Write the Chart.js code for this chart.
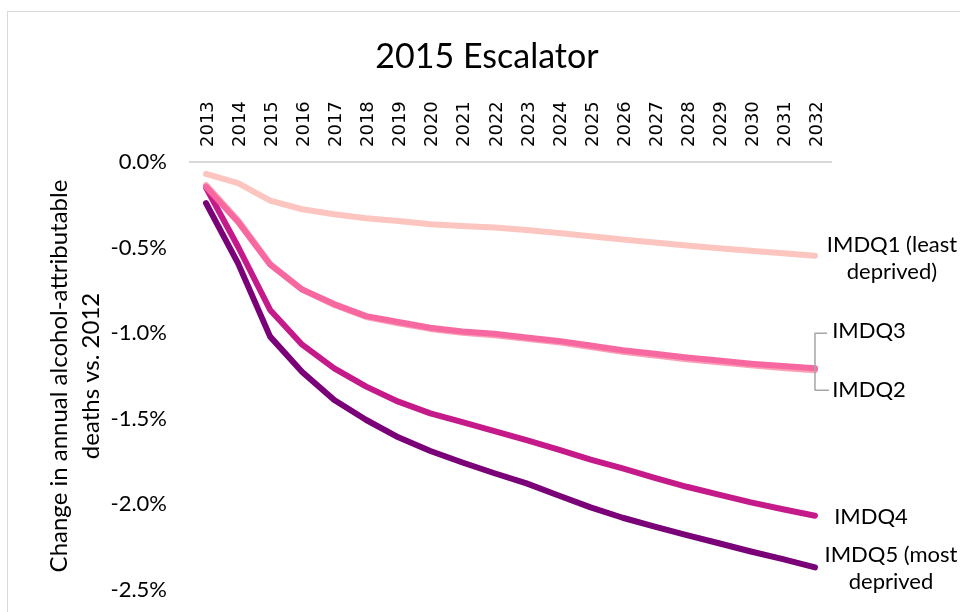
<!DOCTYPE html>
<html>
<head>
<meta charset="utf-8">
<script src="https://cdn.jsdelivr.net/npm/chart.js@4/dist/chart.umd.min.js"></script>
<style>
  html, body { margin: 0; padding: 0; background: #fff; }
  .frame { position: absolute; left: 7px; top: 11px; width: 1000px; height: 700px; border: 1px solid #d9d9d9; }
  #chart { position: absolute; left: 0; top: 0; }
</style>
</head>
<body>
<div class="frame"></div>
<canvas id="chart" width="960" height="612"></canvas>
<script>
const years = ['2013', '2014', '2015', '2016', '2017', '2018', '2019', '2020', '2021', '2022',
  '2023', '2024', '2025', '2026', '2027', '2028', '2029', '2030', '2031', '2032'];

// % change in annual alcohol-attributable deaths vs 2012
const imdq1 = [-0.07, -0.124, -0.226, -0.276, -0.305, -0.329, -0.345, -0.363, -0.374, -0.382,
  -0.397, -0.415, -0.434, -0.453, -0.47, -0.488, -0.504, -0.518, -0.533, -0.548];
const imdq2 = [-0.135, -0.34, -0.595, -0.745, -0.835, -0.905, -0.942, -0.975, -0.998, -1.012,
  -1.033, -1.053, -1.081, -1.109, -1.13, -1.152, -1.17, -1.188, -1.203, -1.216];
const imdq3 = [-0.145, -0.35, -0.6, -0.745, -0.83, -0.9, -0.935, -0.968, -0.99, -1.003,
  -1.025, -1.045, -1.072, -1.1, -1.12, -1.142, -1.16, -1.178, -1.192, -1.205];
const imdq4 = [-0.15, -0.495, -0.864, -1.067, -1.205, -1.312, -1.4, -1.468, -1.52, -1.572,
  -1.624, -1.68, -1.738, -1.79, -1.845, -1.897, -1.943, -1.988, -2.028, -2.066];
const imdq5 = [-0.24, -0.592, -1.02, -1.227, -1.39, -1.507, -1.608, -1.688, -1.755, -1.818,
  -1.877, -1.948, -2.017, -2.078, -2.13, -2.179, -2.227, -2.275, -2.32, -2.368];

const seriesNames = ['IMDQ1 (least deprived)', 'IMDQ2', 'IMDQ3', 'IMDQ4', 'IMDQ5 (most deprived'];
const endLabels = [['IMDQ1 (least', 'deprived)'], ['IMDQ2'], ['IMDQ3'], ['IMDQ4'], ['IMDQ5 (most', 'deprived']];
const yTicks = [0, -0.5, -1.0, -1.5, -2.0, -2.5];
const chartTitle = '2015 Escalator';

const colors = ['#fcc5c0', '#fa9fb5', '#f768a1', '#c51b8a', '#7a0177'];
const labelFont = '22px Lato';

// title centred over the whole frame, not just the plot
const titlePlugin = {
  id: 'frameTitle',
  afterDraw(chart) {
    const ctx = chart.ctx;
    ctx.save();
    ctx.font = '34px Lato';
    ctx.fillStyle = '#000';
    ctx.textAlign = 'center';
    ctx.textBaseline = 'middle';
    ctx.fillText(chartTitle, 487, 57);
    ctx.restore();
  }
};

// end-of-line labels, placed from each series' last point
const endLabelPlugin = {
  id: 'endLabels',
  afterDatasetsDraw(chart) {
    const ctx = chart.ctx;
    ctx.save();
    ctx.font = labelFont;
    ctx.fillStyle = '#000';
    ctx.textAlign = 'center';
    ctx.textBaseline = 'middle';
    // offsets from the last point: [dx, dy of first line]
    const offs = [[77, -11], [54, 20], [54, -37], [56, 1], [76, -12]];
    chart.data.datasets.forEach((ds, i) => {
      const meta = chart.getDatasetMeta(i);
      const pt = meta.data[meta.data.length - 1];
      const lines = endLabels[ds.idx];
      const [dx, dy] = offs[ds.idx];
      lines.forEach((t, j) => ctx.fillText(t, pt.x + dx, pt.y + dy + j * 27));
    });
    // bracket leader for IMDQ3 / IMDQ2
    const m2 = chart.getDatasetMeta(chart.data.datasets.findIndex(d => d.idx === 1));
    const p = m2.data[m2.data.length - 1];
    ctx.strokeStyle = '#a6a6a6';
    ctx.lineWidth = 1.5;
    ctx.lineJoin = 'round';
    ctx.beginPath();
    ctx.moveTo(p.x + 12, p.y - 37);
    ctx.lineTo(p.x, p.y - 37);
    ctx.lineTo(p.x, p.y + 20);
    ctx.lineTo(p.x + 14, p.y + 20);
    ctx.stroke();
    ctx.restore();
  }
};

const allSeries = [imdq1, imdq2, imdq3, imdq4, imdq5];
const drawOrder = [0, 2, 1, 3, 4]; // IMDQ3 sits over IMDQ2

const datasets = drawOrder.map(i => ({
  idx: i,
  label: seriesNames[i],
  data: allSeries[i],
  borderColor: colors[i],
  backgroundColor: colors[i],
  borderWidth: 6,
  borderCapStyle: 'round',
  borderJoinStyle: 'round',
  pointRadius: 0,
  tension: 0,
  clip: false
}));

new Chart(document.getElementById('chart').getContext('2d'), {
  type: 'line',
  data: { labels: years, datasets: datasets },
  options: {
    responsive: false,
    animation: false,
    events: [],
    layout: { padding: { left: 0, right: 129, top: 0, bottom: 22 } },
    plugins: {
      legend: { display: false },
      tooltip: { enabled: false },
      title: { display: false }
    },
    scales: {
      x: {
        position: 'top',
        offset: true,
        grid: { display: false, drawTicks: false },
        border: { display: true, color: '#d9d9d9', width: 2 },
        ticks: {
          autoSkip: false,
          minRotation: 90,
          maxRotation: 90,
          padding: 15,
          labelOffset: 24,
          color: '#000',
          font: { family: 'DejaVu Sans', size: 18 }
        },
        afterFit(scale) {
          scale.height = 162;
        }
      },
      y: {
        min: yTicks[yTicks.length - 1],
        max: yTicks[0],
        grid: { display: false, drawTicks: false },
        border: { display: false },
        afterBuildTicks(scale) {
          scale.ticks = yTicks.map(v => ({ value: v }));
        },
        ticks: {
          padding: 23,
          color: '#000',
          font: { family: 'Lato', size: 22 },
          callback: v => v.toFixed(1) + '%'
        },
        title: {
          display: true,
          text: ['Change in annual alcohol-attributable', 'deaths vs. 2012'],
          color: '#000',
          font: { family: 'Lato', size: 24, lineHeight: 1.3 },
          padding: { top: 44, bottom: 0 }
        },
        afterFit(scale) {
          scale.width = 190;
          scale.paddingTop = 0;
          scale.paddingBottom = 0;
        }
      }
    }
  },
  plugins: [endLabelPlugin, titlePlugin]
});
</script>
</body>
</html>
